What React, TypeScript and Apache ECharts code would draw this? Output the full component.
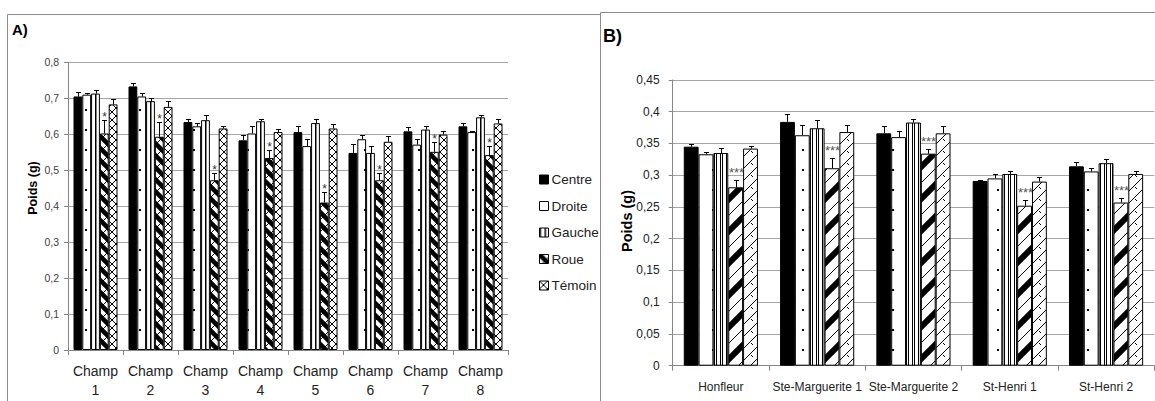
import React, { useEffect, useRef } from 'react';
import * as echarts from 'echarts';

const FONT = 'Liberation Sans, Arial, sans-serif';

const seriesNames = ['Centre', 'Droite', 'Gauche', 'Roue', 'Témoin'];

// Panel A
const categoriesA = ['Champ\n1', 'Champ\n2', 'Champ\n3', 'Champ\n4', 'Champ\n5', 'Champ\n6', 'Champ\n7', 'Champ\n8'];
const centreA = [0.705, 0.733, 0.634, 0.583, 0.606, 0.548, 0.608, 0.622];
const droiteA = [0.71, 0.705, 0.622, 0.602, 0.567, 0.586, 0.571, 0.606];
const gaucheA = [0.713, 0.692, 0.639, 0.636, 0.631, 0.548, 0.613, 0.647];
const roueA = [0.602, 0.593, 0.472, 0.534, 0.41, 0.472, 0.551, 0.542];
const temoinA = [0.683, 0.676, 0.616, 0.606, 0.616, 0.579, 0.599, 0.63];
const centreErrA = [0.012, 0.009, 0.009, 0.016, 0.018, 0.024, 0.011, 0.01];
const droiteErrA = [0.004, 0.011, 0.009, 0.02, 0.021, 0.013, 0.017, 0.003];
const gaucheErrA = [0.011, 0.008, 0.014, 0.007, 0.012, 0.019, 0.01, 0.006];
const roueErrA = [0.038, 0.041, 0.021, 0.022, 0.03, 0.021, 0.026, 0.025];
const temoinErrA = [0.014, 0.016, 0.008, 0.009, 0.012, 0.016, 0.009, 0.012];
const starsA = ['*', '*', '*', '*', '*', '*', '*', '*'];

// Panel B
const categoriesB = ['Honfleur', 'Ste-Marguerite 1', 'Ste-Marguerite 2', 'St-Henri 1', 'St-Henri 2'];
const centreB = [0.345, 0.384, 0.366, 0.291, 0.314];
const droiteB = [0.333, 0.363, 0.36, 0.295, 0.306];
const gaucheB = [0.335, 0.374, 0.383, 0.302, 0.319];
const roueB = [0.281, 0.311, 0.334, 0.252, 0.257];
const temoinB = [0.342, 0.368, 0.366, 0.29, 0.302];
const centreErrB = [0.004, 0.012, 0.012, 0.002, 0.007];
const droiteErrB = [0.004, 0.016, 0.009, 0.007, 0.006];
const gaucheErrB = [0.008, 0.013, 0.006, 0.004, 0.006];
const roueErrB = [0.011, 0.016, 0.008, 0.009, 0.007];
const temoinErrB = [0.004, 0.011, 0.012, 0.008, 0.005];
const starsB = ['***', '***', '***', '***', '***'];

const ticksA = { min: 0, max: 0.8, interval: 0.1 };
const ticksB = { min: 0, max: 0.45, interval: 0.05 };

type Ctx = CanvasRenderingContext2D;

function pat(w: number, h: number, draw: (ctx: Ctx) => void) {
  const c = document.createElement('canvas');
  c.width = w;
  c.height = h;
  const ctx = c.getContext('2d') as Ctx;
  ctx.fillStyle = '#fff';
  ctx.fillRect(0, 0, w, h);
  ctx.fillStyle = '#000';
  ctx.strokeStyle = '#000';
  draw(ctx);
  return { image: c, repeat: 'repeat', imageWidth: w, imageHeight: h } as any;
}

function slash(ctx: Ctx, w: number, cs: number[], lw: number) {
  ctx.lineWidth = lw;
  ctx.beginPath();
  for (const c of cs) {
    ctx.moveTo(-w, c + w);
    ctx.lineTo(2 * w, c - 2 * w);
  }
  ctx.stroke();
}
function backslash(ctx: Ctx, w: number, cs: number[], lw: number) {
  ctx.lineWidth = lw;
  ctx.beginPath();
  for (const c of cs) {
    ctx.moveTo(-w, -w - c);
    ctx.lineTo(2 * w, 2 * w - c);
  }
  ctx.stroke();
}

function makePatterns() {
  const dotsA = pat(9, 20, (ctx) => ctx.fillRect(4, 9, 2, 2));
  const dotsB = pat(15, 20, (ctx) => ctx.fillRect(7, 9, 2, 2));
  const vlinesA = pat(5, 5, (ctx) => ctx.fillRect(0, 0, 1.5, 5));
  const vlinesB = pat(6, 6, (ctx) => {
    ctx.fillRect(0, 0, 1, 6);
    ctx.fillRect(2, 0, 1, 6);
  });
  const roueA = pat(12, 12, (ctx) => {
    backslash(ctx, 12, [-12, 0, 12], 4.5);
    slash(ctx, 12, [0, 12, 24], 1);
  });
  const temoinA = pat(8, 8, (ctx) => {
    slash(ctx, 8, [0, 8, 16], 1);
    backslash(ctx, 8, [-8, 0, 8], 1);
  });
  const roueB = pat(32, 32, (ctx) => {
    slash(ctx, 32, [0, 32, 64], 6);
    slash(ctx, 32, [16, 48], 1);
  });
  const temoinB = pat(12, 12, (ctx) => {
    slash(ctx, 12, [0, 12, 24], 1);
    ctx.lineWidth = 1;
    ctx.beginPath();
    ctx.moveTo(7, 7);
    ctx.lineTo(9, 9);
    ctx.stroke();
  });
  return {
    A: ['#000', dotsA, vlinesA, roueA, temoinA],
    B: ['#000', dotsB, vlinesB, roueB, temoinB],
  };
}

const fmt = (v: number) => String(Math.round(v * 100) / 100).replace('.', ',');

function errorSeries(
  idx: number,
  values: number[][],
  errs: number[][],
  stars: string[],
  gap: number,
  starFont: string,
  starGap: number,
  starColor: string,
) {
  const data: number[][] = [];
  const starList: string[] = [];
  for (let k = 0; k < values.length; k++) {
    for (let c = 0; c < values[k].length; c++) {
      data.push([c, k, values[k][c], values[k][c] + errs[k][c]]);
      starList.push(k === 3 ? stars[c] : '');
    }
  }
  return {
    type: 'custom',
    xAxisIndex: idx,
    yAxisIndex: idx,
    silent: true,
    z: 5,
    encode: { x: 0, y: 3 },
    data,
    renderItem: (params: any, api: any) => {
      const d = data[params.dataIndex];
      const base = api.coord([d[0], d[2]]);
      const top = api.coord([d[0], d[3]]);
      const band = api.size([1, 0])[0];
      const barW = (band * (1 - gap)) / 5;
      const cx = Math.round(base[0] + (d[1] - 2) * barW) + 0.5;
      const ty = Math.round(top[1]) + 0.5;
      const children: any[] = [
        { type: 'line', shape: { x1: cx, y1: base[1], x2: cx, y2: ty }, style: { stroke: '#000', lineWidth: 1 } },
        { type: 'line', shape: { x1: cx - 2.5, y1: ty, x2: cx + 2.5, y2: ty }, style: { stroke: '#000', lineWidth: 1 } },
      ];
      const s = starList[params.dataIndex];
      if (s) {
        children.push({
          type: 'text',
          x: cx,
          y: ty - starGap,
          style: { text: s, align: 'center', verticalAlign: 'bottom', fill: starColor, font: starFont },
        });
      }
      return { type: 'group', children };
    },
  };
}

export default function App() {
  const ref = useRef<HTMLDivElement>(null);
  useEffect(() => {
    document.body.style.margin = '0';
    const chart = echarts.init(ref.current as HTMLDivElement, undefined, { renderer: 'svg' });
    const P = makePatterns();
    const valsA = [centreA, droiteA, gaucheA, roueA, temoinA];
    const valsB = [centreB, droiteB, gaucheB, roueB, temoinB];
    const errsA = [centreErrA, droiteErrA, gaucheErrA, roueErrA, temoinErrA];
    const errsB = [centreErrB, droiteErrB, gaucheErrB, roueErrB, temoinErrB];
    const gapA = 0.2;
    const gapB = 0.23;

    const bars = (idx: number, vals: number[][], pats: any[], gap: number) =>
      vals.map((v, k) => ({
        type: 'bar',
        name: seriesNames[k],
        xAxisIndex: idx,
        yAxisIndex: idx,
        data: v,
        barGap: '0%',
        barCategoryGap: `${gap * 100}%`,
        itemStyle: { color: pats[k], borderColor: '#000', borderWidth: 1 },
        emphasis: { disabled: true },
      }));

    const axisLine = { show: true, lineStyle: { color: '#868686', width: 1 } };

    const option: any = {
      animation: false,
      textStyle: { fontFamily: FONT },
      graphic: [
        { type: 'rect', shape: { x: 7.5, y: 14.5, width: 620, height: 420 }, style: { fill: '#fff', stroke: '#8c8c8c', lineWidth: 1 }, z: -10 },
        { type: 'rect', shape: { x: 600.5, y: 12.5, width: 600, height: 420 }, style: { fill: '#fff', stroke: '#8c8c8c', lineWidth: 1 }, z: -9 },
        { type: 'text', x: 12, y: 29, style: { text: 'A)', font: `bold 15px ${FONT}`, fill: '#000', verticalAlign: 'middle' } },
        { type: 'text', x: 603, y: 36, style: { text: 'B)', font: `bold 18px ${FONT}`, fill: '#000', verticalAlign: 'middle' } },
        { type: 'text', x: 33, y: 188, rotation: Math.PI / 2, style: { text: 'Poids (g)', font: `bold 12.5px ${FONT}`, fill: '#000', align: 'center', verticalAlign: 'middle' } },
        { type: 'text', x: 627, y: 221, rotation: Math.PI / 2, style: { text: 'Poids (g)', font: `bold 14.5px ${FONT}`, fill: '#000', align: 'center', verticalAlign: 'middle' } },
      ],
      legend: {
        data: seriesNames,
        orient: 'vertical',
        left: 534,
        top: 167,
        itemWidth: 9,
        itemHeight: 9,
        itemGap: 11.5,
        icon: 'rect',
        selectedMode: false,
        textStyle: { fontSize: 13.5, color: '#222', lineHeight: 15, fontFamily: FONT, padding: [0, 0, 0, -2] },
        itemStyle: { borderColor: '#000', borderWidth: 1 },
      },
      grid: [
        { left: 68, top: 62.3, width: 440, height: 287.7, containLabel: false },
        { left: 672.7, top: 80, width: 481.5, height: 285.7, containLabel: false },
      ],
      xAxis: [
        {
          type: 'category',
          gridIndex: 0,
          data: categoriesA,
          axisLine,
          axisTick: { show: true, length: 5, lineStyle: { color: '#868686' } },
          axisLabel: { fontSize: 14, lineHeight: 19, margin: 11, color: '#222', fontFamily: FONT, interval: 0 },
        },
        {
          type: 'category',
          gridIndex: 1,
          data: categoriesB,
          axisLine,
          axisTick: { show: true, length: 5, lineStyle: { color: '#868686' } },
          axisLabel: { fontSize: 12, margin: 15, color: '#222', fontFamily: FONT, interval: 0 },
        },
      ],
      yAxis: [
        {
          type: 'value',
          gridIndex: 0,
          ...ticksA,
          axisLine,
          axisTick: { show: true, length: 4, lineStyle: { color: '#868686' } },
          splitLine: { lineStyle: { color: '#a6a6a6' } },
          axisLabel: { fontSize: 10.5, margin: 9, color: '#404040', formatter: fmt, fontFamily: FONT },
        },
        {
          type: 'value',
          gridIndex: 1,
          ...ticksB,
          axisLine,
          axisTick: { show: true, length: 4, lineStyle: { color: '#868686' } },
          splitLine: { lineStyle: { color: '#a6a6a6' } },
          axisLabel: { fontSize: 12, margin: 13, color: '#222', formatter: fmt, fontFamily: FONT },
        },
      ],
      series: [
        ...bars(0, valsA, P.A, gapA),
        ...bars(1, valsB, P.B, gapB),
        errorSeries(0, valsA, errsA, starsA, gapA, `12px ${FONT}`, -2, '#333'),
        errorSeries(1, valsB, errsB, starsB, gapB, `13px ${FONT}`, 2, '#555'),
      ],
    };
    chart.setOption(option);
    return () => chart.dispose();
  }, []);
  return <div ref={ref} style={{ width: 1155, height: 401 }} />;
}
